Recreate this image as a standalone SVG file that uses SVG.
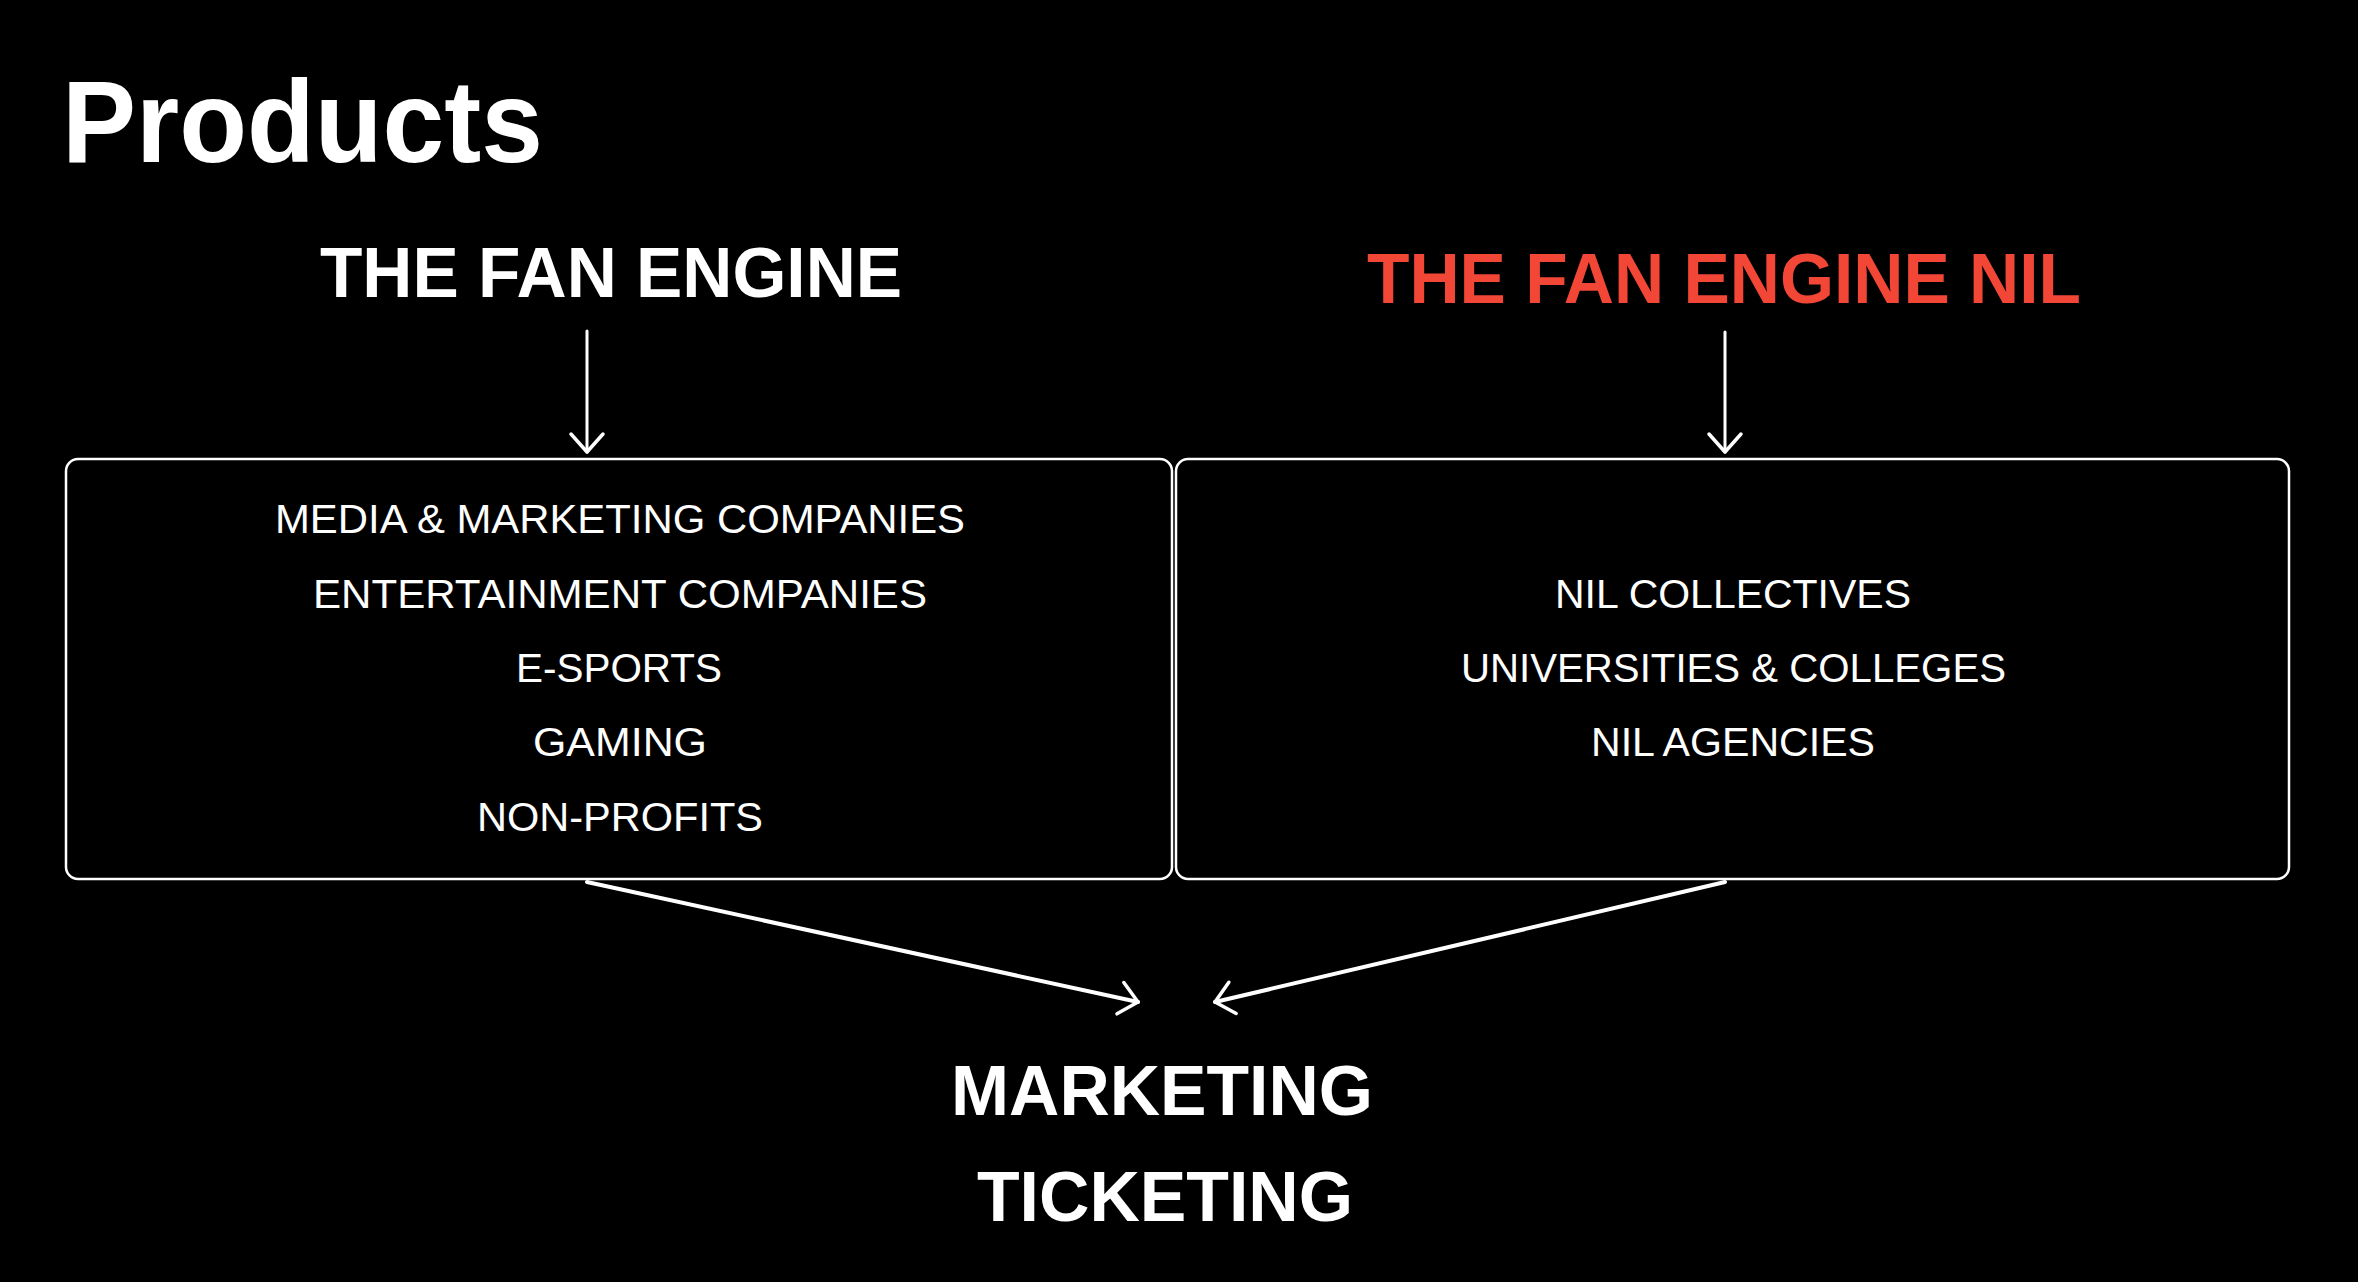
<svg xmlns="http://www.w3.org/2000/svg" width="2358" height="1282" viewBox="0 0 2358 1282">
<style>
.title{font-family:"Liberation Sans",Arial,sans-serif;font-weight:bold;fill:#fff}
.item{font-family:"Liberation Sans",Arial,sans-serif;font-size:40px;fill:#fff}
.box{fill:none;stroke:#fff;stroke-width:2.5}
.conn{stroke:#fff;fill:none;stroke-linecap:round}
</style>
<defs>
<marker id="chev" markerUnits="userSpaceOnUse" viewBox="-24 -24 30 48" refX="0" refY="0" markerWidth="30" markerHeight="48" orient="auto" overflow="visible">
<path d="M-18,-16 L0,0 L-18,16" fill="none" stroke="#fff" stroke-width="3.5" stroke-linecap="round" stroke-linejoin="round"/>
</marker>
</defs>
<rect width="2358" height="1282" fill="#000"/>
<g id="heading">
<text class="title" x="62" y="162" font-size="117" textLength="481" lengthAdjust="spacingAndGlyphs">Products</text>
</g>
<g id="fan-engine">
<text class="title" x="320" y="297" font-size="70" textLength="582" lengthAdjust="spacingAndGlyphs">THE FAN ENGINE</text>
</g>
<g id="fan-engine-nil">
<text class="title" x="1367" y="303" font-size="71" textLength="714" lengthAdjust="spacingAndGlyphs" style="fill:#F24636">THE FAN ENGINE NIL</text>
</g>
<g id="left-box">
<rect class="box" x="66" y="459" width="1106" height="420" rx="12"/>
<text class="item" x="275" y="533" textLength="690" lengthAdjust="spacingAndGlyphs">MEDIA &amp; MARKETING COMPANIES</text>
<text class="item" x="313" y="608" textLength="614" lengthAdjust="spacingAndGlyphs">ENTERTAINMENT COMPANIES</text>
<text class="item" x="516" y="682" textLength="206" lengthAdjust="spacingAndGlyphs">E-SPORTS</text>
<text class="item" x="533" y="756" textLength="174" lengthAdjust="spacingAndGlyphs">GAMING</text>
<text class="item" x="477" y="831" textLength="286" lengthAdjust="spacingAndGlyphs">NON-PROFITS</text>
</g>
<g id="right-box">
<rect class="box" x="1176" y="459" width="1113" height="420" rx="12"/>
<text class="item" x="1555" y="608" textLength="356" lengthAdjust="spacingAndGlyphs">NIL COLLECTIVES</text>
<text class="item" x="1461" y="682" textLength="545" lengthAdjust="spacingAndGlyphs">UNIVERSITIES &amp; COLLEGES</text>
<text class="item" x="1591" y="756" textLength="284" lengthAdjust="spacingAndGlyphs">NIL AGENCIES</text>
</g>
<g id="outputs">
<text class="title" x="951" y="1115" font-size="70" textLength="422" lengthAdjust="spacingAndGlyphs">MARKETING</text>
<text class="title" x="977" y="1221" font-size="70" textLength="376" lengthAdjust="spacingAndGlyphs">TICKETING</text>
</g>
<g id="connectors">
<line class="conn" x1="587" y1="331" x2="587" y2="452" stroke-width="3" marker-end="url(#chev)"/>
<line class="conn" x1="1725" y1="332" x2="1725" y2="452" stroke-width="3" marker-end="url(#chev)"/>
<line class="conn" x1="587" y1="882" x2="1138" y2="1002" stroke-width="4" marker-end="url(#chev)"/>
<line class="conn" x1="1725" y1="882" x2="1215" y2="1002" stroke-width="4" marker-end="url(#chev)"/>
</g>
</svg>
